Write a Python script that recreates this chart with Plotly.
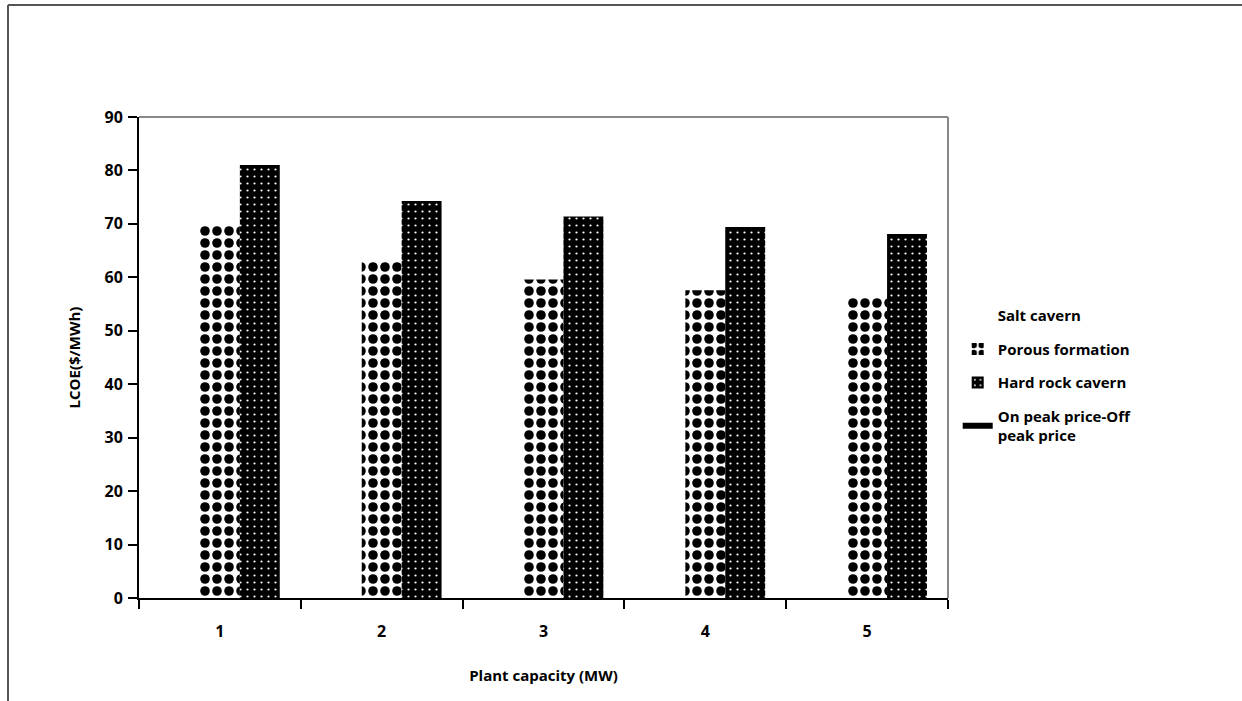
import plotly.graph_objects as go

categories = ["1", "2", "3", "4", "5"]
salt_cavern = [None, None, None, None, None]
porous_formation = [70.0, 63.1, 59.6, 57.6, 56.3]
hard_rock_cavern = [81.0, 74.3, 71.4, 69.4, 68.1]
peak_price_diff = [None, None, None, None, None]
y_ticks = [0, 10, 20, 30, 40, 50, 60, 70, 80, 90]

FONT = "Open Sans"

fig = go.Figure()
fig.add_trace(go.Bar(
    x=categories, y=salt_cavern, name="Salt cavern", legendgroup="a",
    marker=dict(color="white", line=dict(width=0)),
))
fig.add_trace(go.Bar(
    x=categories, y=porous_formation, name="Porous formation", legendgroup="b",
    marker=dict(color="white", line=dict(width=0),
                pattern=dict(shape=".", fgcolor="black", bgcolor="white", fgopacity=1,
                             size=12, solidity=0.5, fillmode="replace")),
))
fig.add_trace(go.Bar(
    x=categories, y=hard_rock_cavern, name="Hard rock cavern", legendgroup="c",
    marker=dict(color="black", line=dict(width=0),
                pattern=dict(shape=".", fgcolor="white", bgcolor="black", fgopacity=1,
                             size=7, solidity=0.08, fillmode="replace")),
))
fig.add_trace(go.Scatter(
    x=categories, y=peak_price_diff, name="On peak price-Off<br>peak price", legendgroup="d",
    mode="lines", line=dict(color="black", width=6),
))

fig.update_layout(
    width=1242, height=701,
    margin=dict(l=139, r=294, t=117, b=103),
    paper_bgcolor="white", plot_bgcolor="white",
    barmode="group", bargap=0.26, bargroupgap=0,
    font=dict(family=FONT, size=15, color="black"),
    showlegend=True,
    legend=dict(x=1.012, y=0.462, xanchor="left", yanchor="middle",
                font=dict(family=FONT, size=15, color="black", weight="bold"),
                tracegroupgap=11, itemwidth=30, bgcolor="rgba(0,0,0,0)"),
    xaxis=dict(
        showline=True, linecolor="black", linewidth=2,
        ticks="outside", tickson="boundaries", ticklen=9, tickwidth=2, tickcolor="black",
        tickfont=dict(family=FONT, size=16, color="black", weight="bold"),
        ticklabelstandoff=18,
        title=dict(text="Plant capacity (MW)", standoff=29,
                   font=dict(family=FONT, size=15, color="black", weight="bold")),
        showgrid=False, zeroline=False,
    ),
    yaxis=dict(
        range=[0, 90], tickvals=y_ticks,
        showline=True, linecolor="black", linewidth=2,
        ticks="outside", ticklen=9, tickwidth=2, tickcolor="black",
        tickfont=dict(family=FONT, size=16, color="black", weight="bold"),
        ticklabelstandoff=2,
        title=dict(text="LCOE($/MWh)", standoff=20,
                   font=dict(family=FONT, size=15, color="black", weight="bold")),
        showgrid=False, zeroline=False,
    ),
    shapes=[
        dict(type="line", xref="x domain", yref="y domain", x0=0, x1=1, y0=1, y1=1,
             line=dict(color="#888888", width=2)),
        dict(type="line", xref="x domain", yref="y domain", x0=1, x1=1, y0=0, y1=1,
             line=dict(color="#888888", width=2)),
        dict(type="line", xref="paper", yref="paper", x0=-131/809, x1=1103/809,
             y0=1 + 112/481, y1=1 + 112/481, line=dict(color="#555555", width=2)),
        dict(type="line", xref="paper", yref="paper", x0=-131/809, x1=-131/809,
             y0=1 + 112/481, y1=-103/481, line=dict(color="#555555", width=2)),
    ],
)

fig.write_html("out.html")
